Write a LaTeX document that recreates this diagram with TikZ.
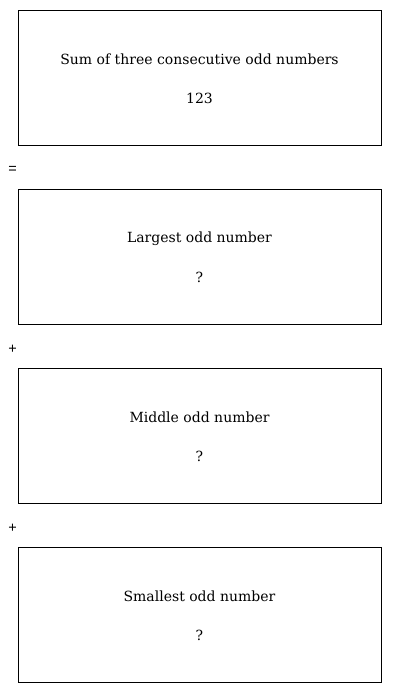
\documentclass[tikz,border=0pt]{standalone}
\usepackage{fontspec}
\setmainfont{DejaVu Serif}
\setsansfont{Liberation Sans}
\usepackage{tikz}

\tikzset{
  partbox/.style={draw, line width=0.9pt, minimum width=363pt, minimum height=135pt, inner sep=0pt},
  parttext/.style={font=\fontsize{14}{16}\selectfont, inner sep=0pt},
  opsign/.style={font=\sffamily\fontsize{14.5}{16}\selectfont, inner sep=0pt}
}

\begin{document}
\begin{tikzpicture}[x=1pt, y=-1pt]
    \useasboundingbox (0, 0) rectangle (400, 693);
    \node[partbox] (sumbox) at (199.5, 77.5) {};
    \node[parttext] (sumtitle) at (199.5, 59.5) {Sum of three consecutive odd numbers};
    \node[parttext] (sumvalue) at (199.5, 98.5) {123};
    \node[opsign] (equals) at (12.5, 170) {=};
    \node[partbox] (largebox) at (199.5, 256.5) {};
    \node[parttext] (largetitle) at (199.5, 238.5) {Largest odd number};
    \node[parttext] (largevalue) at (199.5, 277.5) {?};
    \node[opsign] (plusone) at (12.5, 349) {+};
    \node[partbox] (middlebox) at (199.5, 435.5) {};
    \node[parttext] (middletitle) at (199.5, 417.5) {Middle odd number};
    \node[parttext] (middlevalue) at (199.5, 456.5) {?};
    \node[opsign] (plustwo) at (12.5, 528) {+};
    \node[partbox] (smallbox) at (199.5, 614.5) {};
    \node[parttext] (smalltitle) at (199.5, 596.5) {Smallest odd number};
    \node[parttext] (smallvalue) at (199.5, 635.5) {?};
  \end{tikzpicture}
\end{document}
